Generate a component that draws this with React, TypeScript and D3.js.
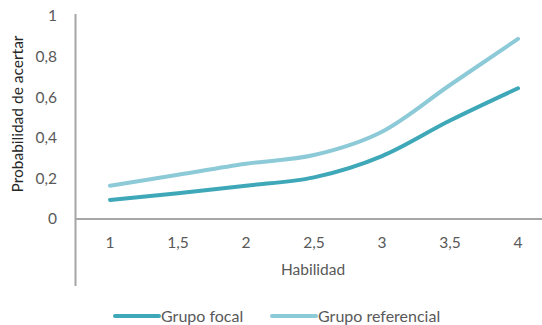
import React from "react";
import * as d3 from "d3";

const habilidad = ["1", "1,5", "2", "2,5", "3", "3,5", "4"];
const grupoFocal = [0.094, 0.127, 0.164, 0.205, 0.31, 0.485, 0.644];
const grupoReferencial = [0.164, 0.218, 0.272, 0.315, 0.43, 0.66, 0.887];
const yTicks = [0, 0.2, 0.4, 0.6, 0.8, 1];

const W = 542;
const H = 325;
const FONT = "Lato, 'Open Sans', sans-serif";
const TEXT = "#595959";
const AXIS = "#a6a6a6";
const C_FOCAL = "#3ea8b9";
const C_REF = "#8dcad7";
const FS = 15.5;

export default function App() {
  const x = d3.scalePoint<string>().domain(habilidad).range([110, 518]);
  const y = d3.scaleLinear().domain([0, 1]).range([219, 16]);
  const fmt = (v: number) => String(v).replace(".", ",");

  const line = d3
    .line<number>()
    .x((_, i) => x(habilidad[i]) as number)
    .y((d) => y(d))
    .curve(d3.curveCardinal.tension(0));

  const series = [
    { name: "Grupo focal", values: grupoFocal, color: C_FOCAL },
    { name: "Grupo referencial", values: grupoReferencial, color: C_REF },
  ];
  const legendX = [115, 272];

  return (
    <svg
      width={W}
      height={H}
      style={{ position: "absolute", left: 0, top: 0, background: "#fff" }}
      fontFamily={FONT}
    >
      {/* axes */}
      <line x1={75.5} x2={75.5} y1={14} y2={286} stroke={AXIS} strokeWidth={2} />
      <line x1={75.5} x2={542} y1={y(0)} y2={y(0)} stroke={AXIS} strokeWidth={2} />

      {/* y tick labels */}
      {yTicks.map((t) => (
        <text
          key={t}
          x={57}
          y={y(t)}
          dy="0.35em"
          textAnchor="end"
          fontSize={FS}
          fill={TEXT}
        >
          {fmt(t)}
        </text>
      ))}

      {/* x tick labels */}
      {habilidad.map((h) => (
        <text
          key={h}
          x={x(h)}
          y={243}
          dy="0.35em"
          textAnchor="middle"
          fontSize={FS}
          fill={TEXT}
        >
          {h}
        </text>
      ))}

      {/* axis titles */}
      <text x={313} y={270} dy="0.35em" textAnchor="middle" fontSize={FS} fill={TEXT}>
        Habilidad
      </text>
      <text
        transform={`translate(18,114) rotate(-90)`}
        dy="0.35em"
        textAnchor="middle"
        fontSize={FS}
        fill="#262626"
      >
        Probabilidad de acertar
      </text>

      {/* series */}
      {series.map((s) => (
        <path
          key={s.name}
          d={line(s.values) as string}
          fill="none"
          stroke={s.color}
          strokeWidth={4}
          strokeLinecap="round"
        />
      ))}

      {/* legend */}
      {series.map((s, i) => (
        <g key={s.name}>
          <line
            x1={legendX[i]}
            x2={legendX[i] + 44}
            y1={316}
            y2={316}
            stroke={s.color}
            strokeWidth={4}
            strokeLinecap="round"
          />
          <text x={legendX[i] + 46} y={316} dy="0.35em" fontSize={16} fill={TEXT}>
            {s.name}
          </text>
        </g>
      ))}
    </svg>
  );
}
